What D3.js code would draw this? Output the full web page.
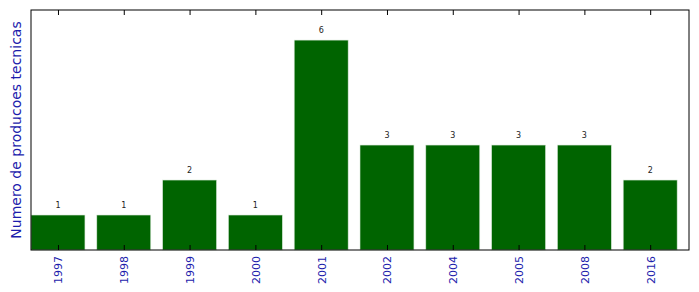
<!DOCTYPE html>
<html>
<head>
<meta charset="utf-8">
<script src="https://cdn.jsdelivr.net/npm/d3@7"></script>
<style>
  body { margin: 0; background: #fff; }
  svg { font-family: "DejaVu Sans", sans-serif; }
</style>
</head>
<body>
<div class="svg"></div>
<script>
var years = ["1997", "1998", "1999", "2000", "2001", "2002", "2004", "2005", "2008", "2016"];
var counts = [1, 1, 2, 1, 6, 3, 3, 3, 3, 2];

var svgW = 699, svgH = 292,
  margin = {top: 10, right: 10, bottom: 42, left: 31},
  width = svgW - margin.left - margin.right,
  height = svgH - margin.top - margin.bottom;

var labelColor = "#1c1cac",
  barColor = "#006400",
  half = 0.41;

// matplotlib-like bar layout, bars centered on integer positions
var xScale = d3.scaleLinear().domain([-half, years.length - half]).range([0, width]),
  yScale = d3.scaleLinear().domain([0, 6.86]).range([height, 0]);

var svg = d3.select(".svg").append("svg")
  .attr("width", svgW)
  .attr("height", svgH);

var g = svg.append("g")
  .attr("transform", "translate(" + margin.left + "," + margin.top + ")");

// Bars
g.selectAll("rect.bar")
  .data(counts).enter().append("rect")
    .attr("class", "bar")
    .attr("x", function(d, i) { return xScale(i - half); })
    .attr("y", function(d) { return yScale(d); })
    .attr("width", function(d, i) { return xScale(i + half) - xScale(i - half); })
    .attr("height", function(d) { return height - yScale(d); })
    .attr("fill", barColor)
    .attr("stroke", "#d8e8d8")
    .attr("stroke-width", 0.6);

// Value labels
g.selectAll("text.val")
  .data(counts).enter().append("text")
    .attr("class", "val")
    .attr("x", function(d, i) { return xScale(i); })
    .attr("y", function(d) { return yScale(d) - 7; })
    .attr("text-anchor", "middle")
    .attr("font-size", "8px")
    .attr("fill", "#222")
    .text(function(d) { return d; });

// X axis bottom (inward ticks) with rotated labels
var tickIdx = d3.range(years.length);
var xAxis = g.append("g")
  .attr("transform", "translate(0," + height + ")")
  .call(d3.axisBottom(xScale).tickValues(tickIdx).tickFormat(function(i) { return years[i]; }).tickSizeInner(-5).tickSizeOuter(0));
xAxis.select(".domain").remove();
xAxis.selectAll(".tick line").attr("stroke", "#000");
xAxis.selectAll(".tick text")
  .attr("fill", labelColor)
  .attr("font-size", "11px")
  .attr("font-family", "DejaVu Sans, sans-serif")
  .attr("transform", "rotate(-90)")
  .attr("text-anchor", "end")
  .attr("x", -6)
  .attr("y", 0)
  .attr("dy", "0.35em");

// X axis top ticks
var xTop = g.append("g")
  .call(d3.axisTop(xScale).tickValues(tickIdx).tickFormat("").tickSizeInner(-5).tickSizeOuter(0));
xTop.select(".domain").remove();
xTop.selectAll(".tick line").attr("stroke", "#000");

// Frame
g.append("rect")
  .attr("x", 0).attr("y", 0)
  .attr("width", width).attr("height", height)
  .attr("fill", "none")
  .attr("stroke", "#000")
  .attr("stroke-width", 1);

// Y label
svg.append("text")
  .attr("transform", "translate(21," + (margin.top + height / 2) + ") rotate(-90)")
  .attr("text-anchor", "middle")
  .attr("font-size", "14px")
  .attr("fill", labelColor)
  .text("Numero de producoes tecnicas");
</script>
</body>
</html>
